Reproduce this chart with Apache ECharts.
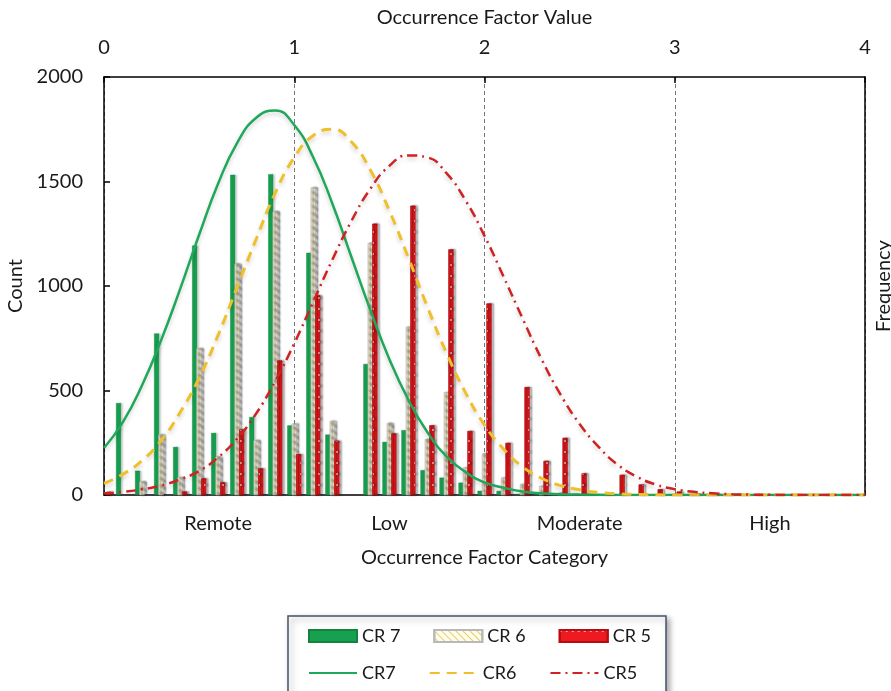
<!DOCTYPE html>
<html>
<head>
<meta charset="utf-8">
<title>Occurrence Factor</title>
<script src="https://cdn.jsdelivr.net/npm/echarts@6/dist/echarts.min.js"></script>
<style>
  html, body { margin: 0; background: #fff; }
  #chart { width: 891px; height: 691px; }
</style>
</head>
<body>
<div id="chart"></div>
<script>
// categories on the bottom axis
const categories = ['Remote', 'Low', 'Moderate', 'High'];

// bin centres (occurrence factor value) for the bars
const binX = [0, 0.1, 0.2, 0.3, 0.4, 0.5, 0.6, 0.7, 0.8, 0.9,
  1.0, 1.1, 1.2, 1.3, 1.4, 1.5, 1.6, 1.7, 1.8, 1.9,
  2.0, 2.1, 2.2, 2.3, 2.4, 2.5, 2.6, 2.7, 2.8, 2.9,
  3.0, 3.1, 3.2];

// bar counts per bin
const cr7Bars = [0, 440, 116, 773, 230, 1194, 297, 1532, 373, 1535,
  333, 1159, 289, 0, 627, 254, 310, 119, 83, 59,
  20, 19, 5, 3, 0, 0, 0, 0, 0, 0,
  0, 0, 0];
const cr6Bars = [0, 0, 64, 289, 84, 701, 183, 1106, 262, 1357,
  341, 1471, 354, 0, 1206, 344, 805, 267, 492, 132,
  198, 83, 52, 43, 11, 0, 0, 0, 0, 0,
  0, 0, 0];
const cr5Bars = [15, 0, 0, 0, 16, 79, 60, 313, 127, 643,
  195, 955, 259, 0, 1298, 294, 1384, 333, 1175, 306,
  916, 249, 516, 163, 273, 103, 0, 96, 50, 27,
  16, 5, 4];

// fitted curves, read at every 0.1
const curveX = [0, 0.1, 0.2, 0.3, 0.4, 0.5, 0.6, 0.7, 0.8, 0.9,
  1.0, 1.1, 1.2, 1.3, 1.4, 1.5, 1.6, 1.7, 1.8, 1.9,
  2.0, 2.1, 2.2, 2.3, 2.4, 2.5, 2.6, 2.7, 2.8, 2.9,
  3.0, 3.1, 3.2, 3.3, 3.4, 3.5, 3.6, 3.7, 3.8, 3.9, 4.0];
const cr7Curve = [225, 350, 525, 740, 985, 1245, 1490, 1685, 1805, 1840,
  1770, 1615, 1395, 1140, 885, 650, 455, 300, 185, 110,
  60, 35, 17, 8, 4, 2, 1, 0, 0, 0,
  0, 0, 0, 0, 0, 0, 0, 0, 0, 0, 0];
const cr6Curve = [55, 100, 165, 260, 395, 560, 765, 995, 1225, 1445,
  1615, 1720, 1750, 1690, 1555, 1360, 1135, 900, 680, 490,
  335, 220, 135, 80, 45, 25, 12, 6, 3, 1,
  0, 0, 0, 0, 0, 0, 0, 0, 0, 0, 0];
const cr5Curve = [8, 15, 27, 45, 75, 115, 180, 270, 390, 545,
  725, 925, 1125, 1310, 1465, 1575, 1625, 1615, 1540, 1410,
  1240, 1045, 845, 650, 480, 340, 230, 145, 88, 50,
  28, 15, 8, 4, 2, 1, 0, 0, 0, 0, 0];

const FONT = 'Lato';
const TEXT = '#1a1a1a';
const AXIS_FONT = 20;

function pairs(xs, ys, skipZero) {
  const out = [];
  xs.forEach(function (x, i) {
    if (skipZero && !ys[i]) return;
    out.push([x, ys[i]]);
  });
  return out;
}

const barShadow = {
  shadowBlur: 2,
  shadowColor: 'rgba(0,0,0,0.18)',
  shadowOffsetX: 2,
  shadowOffsetY: 0
};
const lineShadow = {
  shadowBlur: 4,
  shadowColor: 'rgba(0,0,0,0.18)',
  shadowOffsetY: 3
};

const chart = echarts.init(document.getElementById('chart'));

const option = {
  animation: false,
  textStyle: { fontFamily: FONT, color: TEXT },
  grid: { left: 104, right: 26, top: 77, bottom: 196, outerBoundsMode: 'none', containLabel: false },
  xAxis: [
    {
      type: 'value',
      position: 'top',
      min: 0,
      max: 4,
      interval: 1,
      name: 'Occurrence Factor Value',
      nameLocation: 'middle',
      nameGap: 49,
      nameTextStyle: { fontSize: AXIS_FONT, fontFamily: FONT, color: TEXT },
      axisLine: { onZero: false, lineStyle: { color: '#000', width: 1.5 } },
      axisTick: { inside: true, length: 6, lineStyle: { color: '#000', width: 1.5 } },
      axisLabel: { fontSize: AXIS_FONT, fontFamily: FONT, color: TEXT, margin: 19 },
      splitLine: { show: true, lineStyle: { color: '#777', width: 1, type: [4, 3] } }
    },
    {
      type: 'category',
      position: 'bottom',
      data: categories.map(function (c) {
        return c === 'Remote' ? { value: c, textStyle: { padding: [0, 0, 0, 38] } } : c;
      }),
      boundaryGap: true,
      name: 'Occurrence Factor Category',
      nameLocation: 'middle',
      nameGap: 53,
      nameTextStyle: { fontSize: AXIS_FONT, fontFamily: FONT, color: TEXT },
      axisLine: { lineStyle: { color: '#000', width: 1.5 } },
      axisTick: { show: false },
      axisLabel: { fontSize: AXIS_FONT, fontFamily: FONT, color: TEXT, margin: 19 },
      splitLine: { show: false }
    }
  ],
  yAxis: [
    {
      type: 'value',
      min: 0,
      max: 2000,
      interval: 500,
      name: 'Count',
      nameLocation: 'middle',
      nameGap: 73,
      nameTextStyle: { fontSize: AXIS_FONT, fontFamily: FONT, color: TEXT },
      axisLine: { show: true, onZero: false, lineStyle: { color: '#000', width: 1.5 } },
      axisTick: { show: true, inside: true, length: 6, lineStyle: { color: '#000', width: 1.5 } },
      axisLabel: {
        fontSize: AXIS_FONT, fontFamily: FONT, color: TEXT, margin: 21,
        formatter: function (v) { return String(v); }
      },
      splitLine: { show: false }
    },
    {
      type: 'value',
      position: 'right',
      min: 0,
      max: 2000,
      interval: 500,
      name: 'Frequency',
      nameLocation: 'middle',
      nameRotate: 90,
      nameGap: 9,
      nameTextStyle: { fontSize: AXIS_FONT, fontFamily: FONT, color: TEXT },
      axisLine: { show: true, onZero: false, lineStyle: { color: '#000', width: 1.5 } },
      axisTick: { show: false },
      axisLabel: { show: false },
      splitLine: { show: false }
    }
  ],
  legend: [
    {
      data: ['CR 7', 'CR 6', 'CR 5'],
      left: 308,
      top: 627,
      padding: 0,
      icon: 'rect',
      itemWidth: 48,
      itemHeight: 12,
      itemGap: 33,
      textStyle: { fontSize: 18, fontFamily: FONT, color: TEXT, width: 40 }
    },
    {
      data: ['CR7', 'CR6', 'CR5'],
      left: 308,
      top: 664,
      padding: 0,
      itemWidth: 48,
      itemHeight: 12,
      itemGap: 33,
      itemStyle: { opacity: 0 },
      textStyle: { fontSize: 18, fontFamily: FONT, color: TEXT, width: 40 }
    }
  ],
  graphic: [
    {
      type: 'rect',
      z: 1,
      shape: { x: 288, y: 616, width: 378, height: 110 },
      style: {
        fill: '#fff',
        stroke: '#44546a',
        lineWidth: 1.5,
        shadowBlur: 6,
        shadowColor: 'rgba(0,0,0,0.35)',
        shadowOffsetX: 3,
        shadowOffsetY: 3
      }
    }
  ],
  series: [
    {
      name: 'CR 7',
      type: 'bar',
      xAxisIndex: 0,
      yAxisIndex: 0,
      barWidth: 5,
      barGap: '-10%',
      data: pairs(binX, cr7Bars, true),
      itemStyle: Object.assign({ color: '#17a050', borderColor: '#128440', borderWidth: 0.4 }, barShadow)
    },
    {
      name: 'CR 6',
      type: 'bar',
      xAxisIndex: 0,
      yAxisIndex: 0,
      barWidth: 5,
      barGap: '-10%',
      data: pairs(binX, cr6Bars, true),
      itemStyle: {
        color: '#fffcec',
        borderColor: '#b8b8b8',
        borderWidth: 0.5,
        shadowBlur: 2,
        shadowColor: 'rgba(0,0,0,0.12)',
        shadowOffsetX: 2,
        decal: {
          symbol: 'rect',
          symbolSize: 1,
          dashArrayX: [1, 0],
          dashArrayY: [1, 3.5],
          rotation: Math.PI / 4,
          color: '#e8cd72'
        }
      }
    },
    {
      name: 'CR 5',
      type: 'bar',
      xAxisIndex: 0,
      yAxisIndex: 0,
      barWidth: 5,
      barGap: '-10%',
      data: pairs(binX, cr5Bars, true),
      itemStyle: Object.assign({
        color: '#ee1a1f',
        borderColor: '#b40e12',
        borderWidth: 0.5,
        decal: {
          symbol: 'circle',
          symbolSize: 1,
          dashArrayX: [1.5, 3.5],
          dashArrayY: [1.5, 8.5],
          color: 'rgba(255,255,255,0.8)'
        }
      }, barShadow)
    },
    {
      name: 'CR7',
      type: 'line',
      xAxisIndex: 0,
      yAxisIndex: 0,
      smooth: true,
      showSymbol: false,
      symbol: 'none',
      data: pairs(curveX, cr7Curve, false),
      itemStyle: { color: '#20a85a' },
      lineStyle: Object.assign({ color: '#20a85a', width: 2.5 }, lineShadow)
    },
    {
      name: 'CR6',
      type: 'line',
      xAxisIndex: 0,
      yAxisIndex: 0,
      smooth: true,
      showSymbol: false,
      symbol: 'none',
      data: pairs(curveX, cr6Curve, false),
      itemStyle: { color: '#f0bf2c' },
      lineStyle: Object.assign({ color: '#f0bf2c', width: 3, type: [10, 7] }, lineShadow)
    },
    {
      name: 'CR5',
      type: 'line',
      xAxisIndex: 0,
      yAxisIndex: 0,
      smooth: true,
      showSymbol: false,
      symbol: 'none',
      data: pairs(curveX, cr5Curve, false),
      itemStyle: { color: '#cf2222' },
      lineStyle: Object.assign({ color: '#cf2222', width: 2.5, type: [10, 5, 2, 5] }, lineShadow)
    }
  ]
};

chart.setOption(option);
</script>
</body>
</html>
